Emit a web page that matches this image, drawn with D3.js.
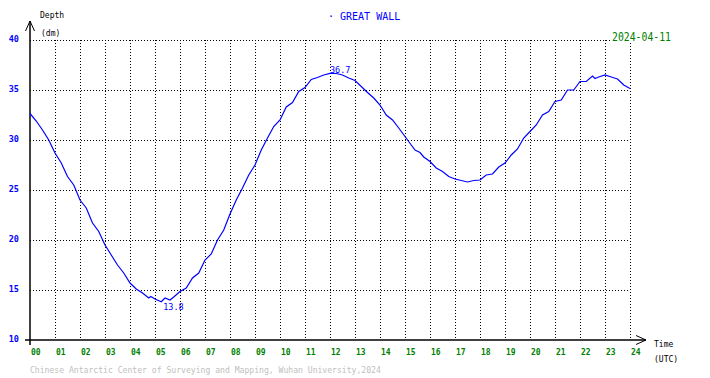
<!DOCTYPE html>
<html>
<head>
<meta charset="utf-8">
<script src="https://cdn.jsdelivr.net/npm/d3@7/dist/d3.min.js"></script>
<style>
  body { margin: 0; background: #fff; }
  svg text { font-family: "DejaVu Sans Mono", "Liberation Mono", monospace; }
</style>
</head>
<body>
<div id="chart"></div>
<script>
/* tide curve, GREAT WALL station */

let station = "GREAT WALL";
let day = "2024-04-11";
let footer = "Chinese Antarctic Center of Surveying and Mapping, Wuhan University,2024";

let hourTicks = d3.range(0, 25);
let depthTicks = [10, 15, 20, 25, 30, 35, 40];

// hour of day (UTC) and depth (dm)
let hours = [0, 0.25, 0.5, 0.75, 1, 1.25, 1.5, 1.75, 2, 2.25, 2.5, 2.75, 3, 3.25, 3.5, 3.75,
  4, 4.25, 4.5, 4.75, 4.83, 5, 5.25, 5.4, 5.6, 5.75, 6, 6.25, 6.5, 6.75, 7, 7.25, 7.5, 7.75,
  8, 8.25, 8.5, 8.75, 9, 9.25, 9.5, 9.75, 10, 10.25, 10.5, 10.75, 11, 11.25, 11.5, 11.75,
  12, 12.25, 12.5, 12.75, 13, 13.25, 13.5, 13.75, 14, 14.25, 14.5, 14.75, 15, 15.25, 15.4,
  15.6, 15.75, 16, 16.25, 16.5, 16.75, 17, 17.25, 17.5, 17.75, 18, 18.25, 18.5, 18.75,
  19, 19.25, 19.5, 19.75, 20, 20.25, 20.5, 20.75, 21, 21.25, 21.5, 21.75, 22, 22.25,
  22.5, 22.6, 22.75, 23, 23.25, 23.5, 23.75, 24];
let depths = [32.65, 31.9, 31.0, 30.0, 28.7, 27.7, 26.35, 25.5, 24.0, 23.2, 21.7, 20.85, 19.5, 18.5, 17.5, 16.7,
  15.7, 15.1, 14.7, 14.2, 14.35, 14.1, 13.83, 14.2, 14.0, 14.3, 14.85, 15.2, 16.2, 16.7, 18.0, 18.6, 20.0, 21.0,
  22.6, 24.0, 25.2, 26.5, 27.5, 29.0, 30.2, 31.35, 32.0, 33.3, 33.75, 34.85, 35.25, 36.05, 36.25, 36.5,
  36.67, 36.65, 36.5, 36.2, 35.95, 35.35, 34.75, 34.2, 33.5, 32.5, 32.0, 31.2, 30.35, 29.5, 29.0,
  28.75, 28.3, 27.85, 27.2, 26.85, 26.35, 26.1, 25.95, 25.8, 25.95, 26.0, 26.5, 26.6, 27.3,
  27.7, 28.5, 29.1, 30.2, 30.85, 31.5, 32.5, 32.85, 33.85, 34.0, 35.0, 35.0, 35.85, 35.85,
  36.4, 36.15, 36.3, 36.5, 36.3, 36.1, 35.5, 35.15];

let width = 710, height = 378;
let x = d3.scaleLinear().domain([0, 24]).range([30, 630]);
let y = d3.scaleLinear().domain([10, 40]).range([340, 40]);

let svg = d3.select("#chart").append("svg")
  .attr("width", width)
  .attr("height", height);

// dotted grid
svg.append("g").selectAll("line")
  .data(hourTicks.slice(1))
  .enter().append("line")
  .attr("x1", d => x(d) + 0.5).attr("x2", d => x(d) + 0.5)
  .attr("y1", y(40)).attr("y2", y(10))
  .attr("stroke", "#000").attr("stroke-dasharray", "1,2");

svg.append("g").selectAll("line")
  .data(depthTicks.slice(1))
  .enter().append("line")
  .attr("x1", x(0)).attr("x2", x(24))
  .attr("y1", d => y(d) + 0.5).attr("y2", d => y(d) + 0.5)
  .attr("stroke", "#000").attr("stroke-dasharray", "1,2");

// axes with arrows
let axisG = svg.append("g").attr("stroke", "#000").attr("fill", "none").attr("stroke-width", 1.5);
axisG.append("line").attr("x1", x(0)).attr("x2", x(0)).attr("y1", 345).attr("y2", 21);
axisG.append("polyline").attr("points", "25.5,31 30,21 34.5,31").attr("stroke-width", 1);
axisG.append("line").attr("x1", 25).attr("x2", 646).attr("y1", y(10)).attr("y2", y(10));
axisG.append("polyline").attr("points", "636,335.5 646,340 636,344.5").attr("stroke-width", 1);

// tick labels
svg.append("g").selectAll("text")
  .data(depthTicks)
  .enter().append("text")
  .attr("x", 19).attr("y", d => y(d) + 1.5)
  .attr("text-anchor", "end")
  .attr("font-size", 8.5).attr("font-weight", "bold")
  .attr("fill", "#0000ff")
  .text(d => d);

svg.append("g").selectAll("text")
  .data(hourTicks)
  .enter().append("text")
  .attr("x", d => x(d) + 1).attr("y", 355)
  .attr("font-size", 8).attr("font-weight", "bold")
  .attr("fill", "#008000")
  .text(d => d3.format("02d")(d));

// axis titles
svg.append("text").attr("x", 40).attr("y", 18).attr("font-size", 8).text("Depth");
svg.append("text").attr("x", 41).attr("y", 36).attr("font-size", 8).text("(dm)");
svg.append("text").attr("x", 654).attr("y", 347).attr("font-size", 8).text("Time");
svg.append("text").attr("x", 654).attr("y", 362).attr("font-size", 8).text("(UTC)");

// title and date
svg.append("text").attr("x", 328).attr("y", 20)
  .attr("font-size", 10).attr("fill", "#0000ff")
  .text("\u00b7 " + station);

svg.append("rect").attr("x", 610).attr("y", 30).attr("width", 64).attr("height", 11).attr("fill", "#fff");
svg.append("text").attr("x", 612).attr("y", 40.5)
  .attr("font-family", "Liberation Mono").attr("font-size", 11.5)
  .attr("textLength", 59).attr("lengthAdjust", "spacingAndGlyphs")
  .attr("fill", "#008000")
  .text(day);

// tide curve
let pts = hours.map((h, i) => [h, depths[i]]);
let line = d3.line().x(d => x(d[0])).y(d => y(d[1]));
svg.append("path")
  .datum(pts)
  .attr("d", line)
  .attr("fill", "none")
  .attr("stroke", "#0000ff")
  .attr("stroke-width", 1.2);

// high / low labels
let iMax = d3.maxIndex(depths), iMin = d3.minIndex(depths);
svg.append("text")
  .attr("x", x(hours[iMax])).attr("y", y(depths[iMax]) - 0.5)
  .attr("font-size", 8.5).attr("fill", "#0000ff")
  .text(depths[iMax].toFixed(1));
svg.append("text")
  .attr("x", x(hours[iMin]) + 2).attr("y", y(depths[iMin]) + 8)
  .attr("font-size", 8.5).attr("fill", "#0000ff")
  .text(depths[iMin].toFixed(1));

// footer
svg.append("text").attr("x", 30).attr("y", 373)
  .attr("font-size", 8.1).attr("fill", "#c0c0c0")
  .text(footer);
</script>
</body>
</html>
